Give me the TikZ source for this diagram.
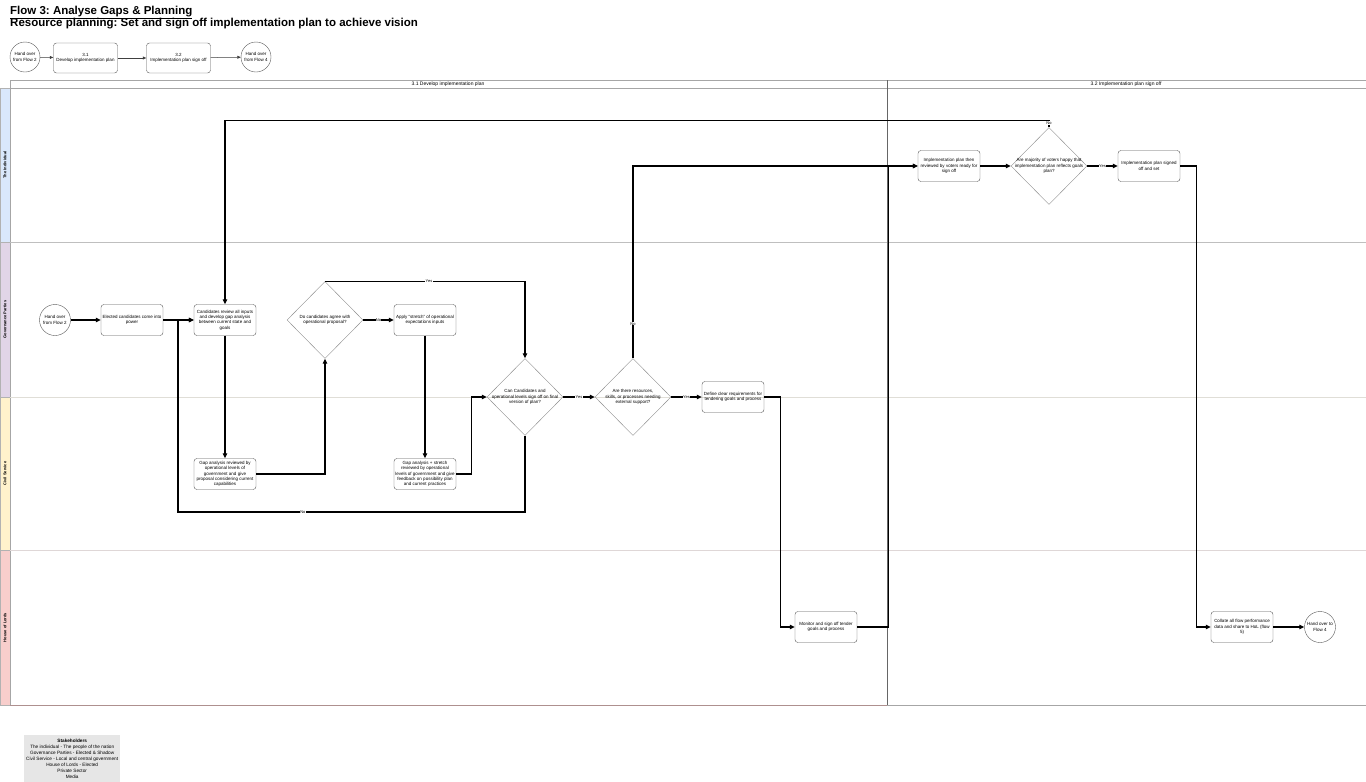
\documentclass[tikz,border=0pt]{standalone}
\usepackage{fontspec}
\setmainfont{Liberation Sans}
\usetikzlibrary{shapes.geometric,arrows.meta,calc}
\definecolor{laneblue}{HTML}{DAE8FC}
\definecolor{lanepurple}{HTML}{E1D5E7}
\definecolor{laneyellow}{HTML}{FFF2CC}
\definecolor{lanered}{HTML}{F8CECC}
\definecolor{legendgray}{HTML}{E6E6E6}
\hyphenpenalty=10000
\exhyphenpenalty=10000
\frenchspacing
\begin{document}
\begin{tikzpicture}[x=1pt,y=-1pt,
  small/.style={font=\fontsize{4.5}{5.4}\selectfont},
  box/.style={small, draw=black!65, rounded corners=3pt, minimum width=62pt, minimum height=31pt, text width=59.5pt, align=flush center, inner sep=0.5pt},
  dec/.style={small, draw=black!45, diamond, minimum width=76pt, minimum height=77pt, aspect=1, inner sep=-9pt, text width=80pt, align=flush center},
  term/.style={small, draw=black!65, circle, minimum size=31pt, inner sep=0pt, text width=28pt, align=flush center},
  flow/.style={draw=black, line width=1.1pt, -{Triangle[length=5pt,width=4.5pt]}},
  thinflow/.style={draw=black!75, line width=0.5pt, -{Triangle[length=3.5pt,width=3pt]}},
  lab/.style={fill=white, inner sep=0.4pt, font=\fontsize{4}{4.5}\selectfont},
  lanelab/.style={rotate=90, font=\bfseries\fontsize{4}{4.5}\selectfont},
  hdr/.style={font=\fontsize{5}{6}\selectfont},
]
\useasboundingbox (0,0) rectangle (1366,782);
\fill[white] (0,0) rectangle (1366,782);

% titles
\node[anchor=base west, inner sep=0, font=\bfseries\fontsize{11.5}{13}\selectfont] (t1) at (10,14) {\underline{Flow 3: Analyse Gaps \& Planning}};
\node[anchor=base west, inner sep=0, font=\bfseries\fontsize{11.5}{13}\selectfont] (t2) at (10,26.5) {Resource planning: Set and sign off implementation plan to achieve vision};

% mini flow
\node[term, minimum size=30pt] (m1) at (25,57) {Hand over\\from Flow 2};
\node[box, minimum width=63pt, minimum height=30pt, text width=63pt] (m2) at (85.5,58) {3.1\\Develop implementation plan};
\node[box, minimum width=63pt, minimum height=30pt, text width=63pt] (m3) at (178.5,58) {3.2\\Implementation plan sign off};
\node[term, minimum size=30pt] (m4) at (256,57) {Hand over\\from Flow 4};
\draw[thinflow] (m1) -- (m2);
\draw[thinflow] (m2) -- (m3);
\draw[thinflow] (m3) -- (m4);

% lane label strips
\filldraw[fill=laneblue, draw=black!30, line width=0.4pt] (0,88) rectangle (10,242);
\filldraw[fill=lanepurple, draw=black!30, line width=0.4pt] (0,242) rectangle (10,397);
\filldraw[fill=laneyellow, draw=black!30, line width=0.4pt] (0,397) rectangle (10,550);
\filldraw[fill=lanered, draw=black!30, line width=0.4pt] (0,550) rectangle (10,705);
\node[lanelab] (l1) at (5,165) {The Individual};
\node[lanelab] (l2) at (5,319.5) {Governance Parties};
\node[lanelab] (l3) at (5,473.5) {Civil Service};
\node[lanelab] (l4) at (5,627.5) {House of Lords};

% pool frame
\draw[black!35, line width=0.5pt] (10,80) rectangle (1366,705);
\draw[black!35, line width=0.5pt] (10,88) -- (1366,88);
\draw[black!25, line width=0.5pt] (10,242) -- (1366,242);
\draw[laneyellow!60!black!30, line width=0.5pt] (10,397) -- (1366,397);
\draw[lanered!60!black!30, line width=0.5pt] (10,550) -- (1366,550);
\draw[lanered!70!black, line width=0.5pt] (10,705) -- (887,705);
\draw[black!60, line width=0.6pt] (887,80) -- (887,705);
\node[hdr] (hd1) at (448,84) {3.1 Develop implementation plan};
\node[hdr] (hd2) at (1126,84) {3.2 Implementation plan sign off};

% nodes
\node[term] (h2) at (55,320) {Hand over\\from Flow 2};
\node[box] (elect) at (132,320) {Elected candidates come into power};
\node[box] (review) at (225,320) {Candidates review all inputs and develop gap analysis between current state and goals};
\node[dec] (agree) at (325,320) {Do candidates agree with\\operational proposal?};
\node[box] (stretch) at (425,320) {Apply ``stretch'' of operational expectations inputs};
\node[box] (gap1) at (225,474) {Gap analysis reviewed by operational levels of government and give proposal considering current capabilities};
\node[box] (gap2) at (425,474) {Gap analysis + stretch reviewed by operational levels of government and give feedback on possibility plan and current practices};
\node[dec] (signoff) at (525,397) {Can Candidates and\\operational levels sign off on final\\version of plan?};
\node[dec] (ext) at (633,397) {Are there resources,\\skills, or processes needing\\external support?};
\node[box] (define) at (733,397) {Define clear requirements for tendering goals and process};
\node[box] (monitor) at (826,627) {Monitor and sign off tender goals and process};
\node[box] (voters) at (949,166) {Implementation plan then reviewed by voters ready for sign off};
\node[dec] (happy) at (1049,166) {Are majority of voters happy that\\implementation plan reflects goals\\plan?};
\node[box] (signed) at (1149,166) {Implementation plan signed off and set};
\node[box] (collate) at (1242,627) {Collate all flow performance data and share to HoL (flow 5)};
\node[term] (h4) at (1320,627) {Hand over to\\Flow 4};

% connectors
\coordinate (j1) at (178,512);
\draw[flow] (h2) -- (elect);
\draw[flow] (elect) -- (review);
\draw[flow] (signoff.south) |- node[lab, pos=0.82]{No} (j1) |- (review.west);
\draw[flow] (review) -- (gap1);
\draw[flow] (gap1.east) -| (agree.south);
\draw[flow] (agree.east) -- node[lab]{No} (stretch.west);
\draw[flow] (agree.north) -| node[lab, pos=0.26]{Yes} (signoff.north);
\draw[flow] (stretch) -- (gap2);
\draw[flow] (gap2.east) -- ++(15,0) |- (signoff.west);
\draw[flow] (signoff.east) -- node[lab]{Yes} (ext.west);
\draw[flow] (ext.east) -- node[lab]{Yes} (define.west);
\draw[flow] (ext.north) |- node[lab, pos=0.09]{No} (voters.west);
\draw[flow] (define.east) -- ++(16,0) |- (monitor.west);
\draw[flow] (monitor.east) -- ++(31,0) |- (voters.west);
\draw[flow] (voters) -- (happy);
\draw[flow] (happy.east) -- node[lab]{Yes} (signed.west);
\draw[flow] (happy.north) -- node[lab, pos=0.6]{No} ++(0,-7) -| (review.north);
\draw[flow] (signed.east) -- ++(16,0) |- (collate.west);
\draw[flow] (collate) -- (h4);

% legend
\node[fill=legendgray, minimum width=96pt, minimum height=47pt, anchor=north west, inner sep=1pt, align=center, font=\fontsize{4.7}{5.9}\selectfont] (legend) at (24,735) {\textbf{Stakeholders}\\The individual - The people of the nation\\Governance Parties - Elected \& Shadow\\Civil Service - Local and central government\\House of Lords - Elected\\Private Sector\\Media};
\end{tikzpicture}
\end{document}
